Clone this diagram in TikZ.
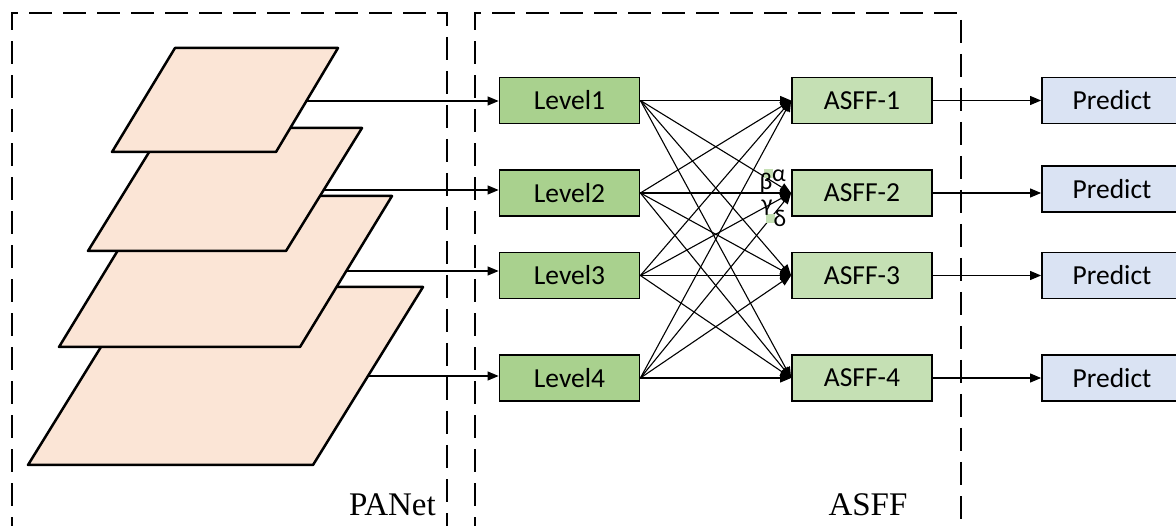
\documentclass[tikz,border=0pt]{standalone}
\usepackage{fontspec}
\setmainfont{Liberation Serif}
\newfontfamily\boxfont{Carlito}
\usetikzlibrary{arrows.meta}

\definecolor{levelgreen}{HTML}{A9D18E}
\definecolor{asffgreen}{HTML}{C5E0B4}
\definecolor{predblue}{HTML}{DAE3F3}
\definecolor{layerfill}{HTML}{FBE5D6}
\definecolor{tagfill}{HTML}{C5E0B4}

\begin{document}
\begin{tikzpicture}[x=1pt,y=-1pt,
  blk/.style={draw=black, line width=1.8pt, minimum width=140pt, minimum height=46pt,
    inner sep=0pt, font=\boxfont\fontsize{27.5}{30}\selectfont},
  lvl/.style={blk, fill=levelgreen},
  asffbox/.style={blk, fill=asffgreen},
  predbox/.style={blk, fill=predblue},
  conn/.style={line width=1.1pt, -{Triangle[length=11pt,width=9pt]}},
  region/.style={dash pattern=on 23pt off 11pt, line width=2.8pt},
  layer/.style={fill=layerfill, draw=black, line width=2.5pt, line join=round},
  greek/.style={inner sep=0pt, font=\boxfont\fontsize{24}{24}\selectfont},
  caption/.style={inner sep=0pt, font=\fontsize{33}{36}\selectfont}
]
\clip (0,0) rectangle (1176,526);
\fill[white] (0,0) rectangle (1176,526);

% dashed regions
\draw[region] (12,540) -- (12,13) -- (447,13) -- (447,540);
\draw[region] (475,540) -- (475,13) -- (961,13) -- (961,540);

% feature pyramid layers, back to front
\draw[layer] (138,287) -- (423,287) -- (313,465) -- (28,465) -- cycle;
\draw[layer] (151,196) -- (392,196) -- (300,347) -- (59,347) -- cycle;
\draw[layer] (164,128) -- (362,128) -- (286,251) -- (88,251) -- cycle;
\draw[layer] (175,48) -- (338,48) -- (276,152) -- (112,152) -- cycle;

% outputs of the layers
\coordinate (s1) at (306,101);
\coordinate (s2) at (324,190);
\coordinate (s3) at (346,271);
\coordinate (s4) at (368,376);

% level boxes
\node[lvl] (L1) at (569.5,100.5) {Level1};
\node[lvl] (L2) at (569.5,193) {Level2};
\node[lvl] (L3) at (569.5,275.5) {Level3};
\node[lvl] (L4) at (569.5,378) {Level4};

% fusion boxes
\node[asffbox] (A1) at (862,100.5) {ASFF-1};
\node[asffbox] (A2) at (862,193) {ASFF-2};
\node[asffbox] (A3) at (862,275.5) {ASFF-3};
\node[asffbox] (A4) at (862,378) {ASFF-4};

% prediction heads
\node[predbox] (P1) at (1112,100.5) {Predict};
\node[predbox] (P2) at (1112,189) {Predict};
\node[predbox] (P3) at (1112,275.5) {Predict};
\node[predbox] (P4) at (1112,378) {Predict};

% layer to level
\foreach \i in {1,...,4}
  \draw[conn] (s\i) -- (s\i -| L\i.west);

% every level feeds every fusion block
\foreach \i in {1,...,4}
  \foreach \j in {1,...,4}
    \draw[conn] (L\i.east) -- (A\j.west);

% fusion to prediction
\foreach \i in {1,...,4}
  \draw[conn] (A\i.east) -- (A\i.east -| P\i.west);

% weights of ASFF-2
\fill[tagfill] (764,169) rectangle (773,178);
\fill[tagfill] (766,214) rectangle (775,223);
\node[greek, anchor=base] (wa) at (779,182) {α};
\node[greek, anchor=base] (wb) at (766,190) {β};
\node[greek, anchor=base] (wg) at (767,212) {γ};
\node[greek, anchor=base] (wd) at (780,227) {δ};

% region captions
\node[caption, anchor=base east] (panet) at (436,515) {PANet};
\node[caption, anchor=base] (asff) at (868,515) {ASFF};
\end{tikzpicture}
\end{document}
